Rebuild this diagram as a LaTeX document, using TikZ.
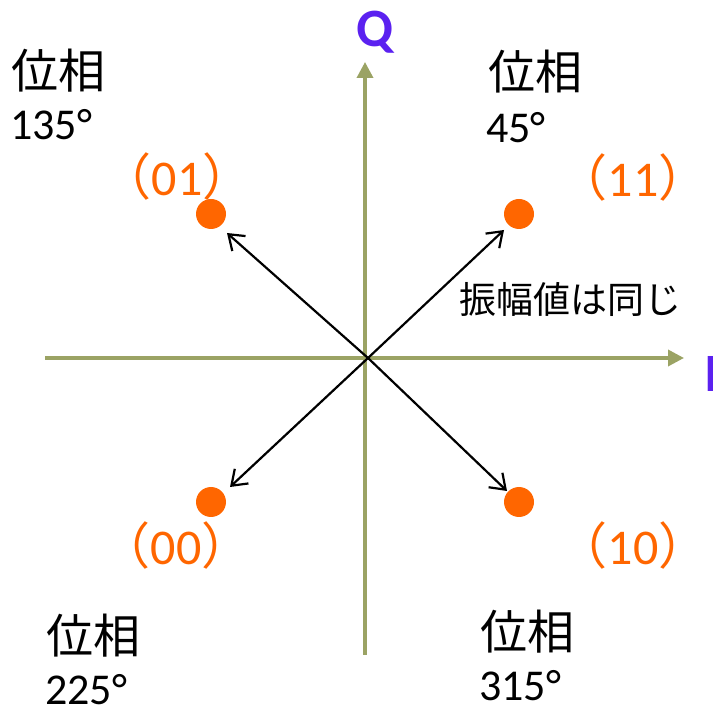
\documentclass[tikz,border=0pt]{standalone}
\usepackage{fontspec}
\setmainfont{Carlito}
\newfontfamily\cjk{Noto Sans CJK JP}
\usetikzlibrary{arrows.meta}
\definecolor{axisc}{RGB}{155,163,100}
\definecolor{qc}{RGB}{91,33,240}
\definecolor{orc}{RGB}{255,102,0}
\tikzset{
  axisline/.style={draw=axisc, line width=3.5pt, -{Triangle[length=16pt,width=16pt]}},
  vec/.style={draw=black, line width=2.2pt, -{Straight Barb[length=14pt,width=20pt]}},
  dot/.style={circle, fill=orc, minimum size=30pt, inner sep=0pt},
  jp/.style={inner sep=0pt, anchor=base west, font=\cjk\fontsize{47}{50}\selectfont},
  num/.style={inner sep=0pt, anchor=base west, font=\fontsize{44}{50}\selectfont},
  bits/.style={inner sep=0pt, anchor=base, text=orc, font=\fontsize{50}{52}\selectfont},
  axlabel/.style={inner sep=0pt, text=qc, font=\bfseries\fontsize{54}{56}\selectfont},
  note/.style={inner sep=0pt, anchor=base west, font=\cjk\fontsize{37}{40}\selectfont}
}
\begin{document}
\begin{tikzpicture}[x=1pt,y=-1pt]
\useasboundingbox (0,0) rectangle (713,708);
% axes
\coordinate (vbot) at (365,655);
\coordinate (vtop) at (365,62);
\coordinate (hleft) at (45,358);
\coordinate (hright) at (684,358);
\draw[axisline] (hleft) -- (hright);
\draw[axisline] (vbot) -- (vtop);
\node[axlabel, anchor=base] (qlab) at (375,47) {Q};
\node[axlabel, anchor=base west] (ilab) at (704,392) {I};
% dots
\node[dot] (d01) at (211,214) {};
\node[dot] (d11) at (519,214) {};
\node[dot] (d00) at (211,502) {};
\node[dot] (d10) at (519,502) {};
% vectors
\coordinate (o) at (368,358);
\coordinate (t01) at (227,233);
\coordinate (t11) at (504,230);
\coordinate (t00) at (230,487);
\coordinate (t10) at (507,491);
\draw[vec] (o) -- (t01);
\draw[vec] (o) -- (t11);
\draw[vec] (o) -- (t00);
\draw[vec] (o) -- (t10);
% bit labels
\node[bits] (b01) at (177,196) {{\cjk（}01{\cjk）}};
\node[bits] (b11) at (633,197) {{\cjk（}11{\cjk）}};
\node[bits] (b00) at (176,565) {{\cjk（}00{\cjk）}};
\node[bits] (b10) at (633,565) {{\cjk（}10{\cjk）}};
% phase labels
\node[jp] (p135a) at (11,89) {位相};
\node[num] (p135b) at (10,140) {135°};
\node[jp] (p45a) at (488,90) {位相};
\node[num] (p45b) at (486,143) {45°};
\node[jp] (p225a) at (46,654) {位相};
\node[num] (p225b) at (45,704) {225°};
\node[jp] (p315a) at (480,649) {位相};
\node[num] (p315b) at (479,700) {315°};
% note
\node[note] (amp) at (459,314) {振幅値は同じ};
\end{tikzpicture}
\end{document}
